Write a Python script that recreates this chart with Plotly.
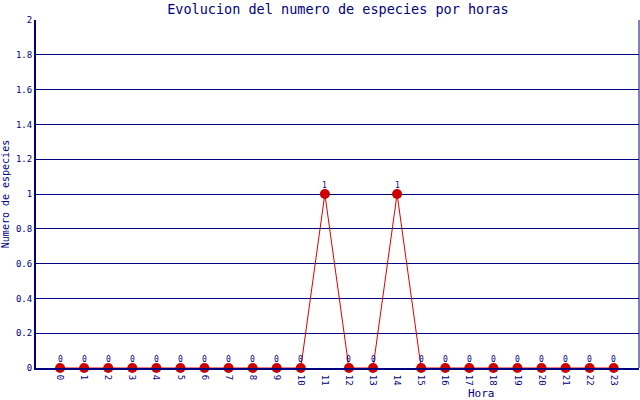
import plotly.graph_objects as go

# data
horas = list(range(24))
especies = [0, 0, 0, 0, 0, 0, 0, 0, 0, 0, 0, 1, 0, 0, 1, 0, 0, 0, 0, 0, 0, 0, 0, 0]
tick_labels = [str(h) for h in horas]

navy = '#000080'
fnt = 'DejaVu Sans Mono'

fig = go.Figure()
fig.add_trace(go.Scatter(
    x = horas,
    y = especies,
    mode = 'lines+markers',
    line = dict(color = '#dd0000', width = 1),
    marker = dict(color = '#cc0000', size = 10),
    cliponaxis = False,
    showlegend = False
))

# value labels just above each point
for h, v in zip(horas, especies):
    fig.add_annotation(x = h, y = v, text = str(v), showarrow = False,
                       yshift = 9, yanchor = 'middle',
                       font = dict(family = fnt, size = 8, color = navy))

fig.update_layout(
    width = 640, height = 400,
    margin = dict(l = 36, r = 1, t = 20, b = 32),
    paper_bgcolor = 'white', plot_bgcolor = 'white',
    font = dict(family = fnt, color = navy, size = 10),
    title = dict(text = 'Evolucion del numero de especies por horas',
                 x = 0.528, xanchor = 'center', y = 0.978, yanchor = 'middle',
                 font = dict(size = 13.5, color = navy, family = fnt)),
)
fig.update_xaxes(
    range = [-1, 24.05],
    tickvals = horas, ticktext = tick_labels,
    tickangle = 90, tickfont = dict(size = 9),
    ticklabelstandoff = 3,
    showgrid = False, zeroline = False,
    showline = True, linecolor = navy, linewidth = 2, mirror = False,
)
fig.update_yaxes(
    range = [0, 2], dtick = 0.2,
    tickfont = dict(size = 9),
    showgrid = True, gridcolor = navy, gridwidth = 1, zeroline = False,
    showline = True, linecolor = navy, linewidth = 2,
    title = dict(text = 'Numero de especies', standoff = 6, font = dict(size = 10)),
)
# x title sits right of centre in the original
fig.add_annotation(text = 'Hora', xref = 'paper', yref = 'paper', x = 0.738, y = -0.072,
                   xanchor = 'center', yanchor = 'middle', showarrow = False,
                   font = dict(size = 11, color = navy, family = fnt))
# right border of the plot area
fig.add_shape(type = 'line', xref = 'paper', yref = 'paper', x0 = 1, x1 = 1, y0 = 0, y1 = 1,
              line = dict(color = navy, width = 1))

fig.write_html('out.html', config = {'displayModeBar': False},
               post_script = "document.body.style.margin='0';")
